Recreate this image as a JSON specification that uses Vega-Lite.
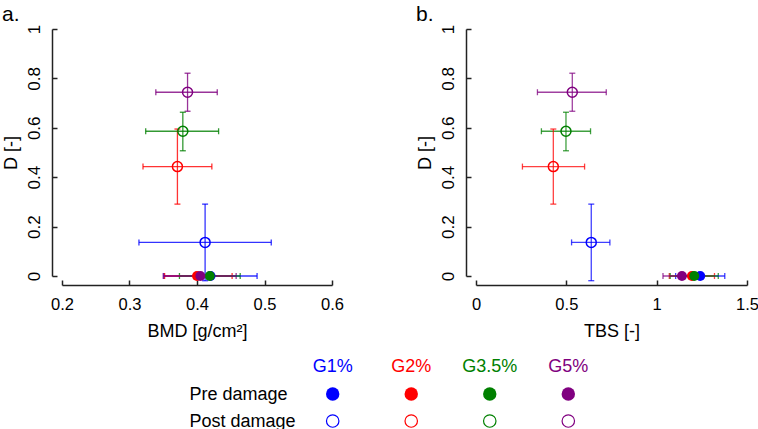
{
  "$schema": "https://vega.github.io/schema/vega-lite/v6.json",
  "padding": {"left": 2, "top": 4, "right": 0, "bottom": 0},
  "config": {
    "font": "Liberation Sans",
    "view": {"stroke": null},
    "axis": {"grid": false, "labelFontSize": 17, "titleFontSize": 18, "titleFontWeight": "normal", "labelColor": "#000", "titleColor": "#000", "domainColor": "#222", "tickColor": "#222", "domainWidth": 1.5, "tickWidth": 1.5, "labelFlush": false},
    "title": {"fontSize": 21, "fontWeight": "normal", "anchor": "start", "color": "#000", "offset": -1}
  },
  "datasets": {
    "main": [
      {"panel": "a", "group": "G1%", "status": "Pre damage", "x": 0.42, "xlo": 0.351, "xhi": 0.489, "y": 0, "ylo": null, "yhi": null},
      {"panel": "a", "group": "G2%", "status": "Pre damage", "x": 0.4, "xlo": 0.352, "xhi": 0.452, "y": 0, "ylo": null, "yhi": null},
      {"panel": "a", "group": "G3.5%", "status": "Pre damage", "x": 0.419, "xlo": 0.374, "xhi": 0.464, "y": 0, "ylo": null, "yhi": null},
      {"panel": "a", "group": "G5%", "status": "Pre damage", "x": 0.405, "xlo": 0.35, "xhi": 0.458, "y": 0, "ylo": null, "yhi": null},
      {"panel": "a", "group": "G1%", "status": "Post damage", "x": 0.412, "xlo": 0.314, "xhi": 0.51, "y": 0.136, "ylo": -0.019, "yhi": 0.291},
      {"panel": "a", "group": "G2%", "status": "Post damage", "x": 0.371, "xlo": 0.32, "xhi": 0.422, "y": 0.443, "ylo": 0.291, "yhi": 0.595},
      {"panel": "a", "group": "G3.5%", "status": "Post damage", "x": 0.379, "xlo": 0.324, "xhi": 0.432, "y": 0.586, "ylo": 0.507, "yhi": 0.663},
      {"panel": "a", "group": "G5%", "status": "Post damage", "x": 0.386, "xlo": 0.339, "xhi": 0.43, "y": 0.744, "ylo": 0.667, "yhi": 0.821},
      {"panel": "b", "group": "G1%", "status": "Pre damage", "x": 1.241, "xlo": 1.105, "xhi": 1.377, "y": 0, "ylo": null, "yhi": null},
      {"panel": "b", "group": "G2%", "status": "Pre damage", "x": 1.195, "xlo": 1.07, "xhi": 1.32, "y": 0, "ylo": null, "yhi": null},
      {"panel": "b", "group": "G3.5%", "status": "Pre damage", "x": 1.208, "xlo": 1.075, "xhi": 1.341, "y": 0, "ylo": null, "yhi": null},
      {"panel": "b", "group": "G5%", "status": "Pre damage", "x": 1.14, "xlo": 1.035, "xhi": 1.245, "y": 0, "ylo": null, "yhi": null},
      {"panel": "b", "group": "G1%", "status": "Post damage", "x": 0.638, "xlo": 0.529, "xhi": 0.741, "y": 0.136, "ylo": -0.019, "yhi": 0.291},
      {"panel": "b", "group": "G2%", "status": "Post damage", "x": 0.428, "xlo": 0.257, "xhi": 0.601, "y": 0.443, "ylo": 0.291, "yhi": 0.595},
      {"panel": "b", "group": "G3.5%", "status": "Post damage", "x": 0.498, "xlo": 0.362, "xhi": 0.634, "y": 0.586, "ylo": 0.507, "yhi": 0.663},
      {"panel": "b", "group": "G5%", "status": "Post damage", "x": 0.533, "xlo": 0.34, "xhi": 0.721, "y": 0.744, "ylo": 0.667, "yhi": 0.821}
    ],
    "legend": [
      {"group": "G1%", "status": "Pre damage"},
      {"group": "G2%", "status": "Pre damage"},
      {"group": "G3.5%", "status": "Pre damage"},
      {"group": "G5%", "status": "Pre damage"},
      {"group": "G1%", "status": "Post damage"},
      {"group": "G2%", "status": "Post damage"},
      {"group": "G3.5%", "status": "Post damage"},
      {"group": "G5%", "status": "Post damage"}
    ]
  },
  "columns": 2,
  "bounds": "flush",
  "spacing": {"column": 144, "row": 91},
  "resolve": {"scale": {"x": "independent", "y": "independent", "color": "shared"}},
  "concat": [
    {
      "title": {"text": "a."},
      "width": 270,
      "height": 247,
      "data": {"name": "main"},
      "transform": [{"filter": "datum.panel == 'a'"}],
      "encoding": {
        "color": {"field": "group", "type": "nominal", "scale": {"domain": ["G1%", "G2%", "G3.5%", "G5%"], "range": ["#0000ff", "#ff0000", "#008000", "#800080"]}, "legend": null}
      },
      "layer": [
        {
          "mark": {"type": "errorbar", "thickness": 1.3, "opacity": 0.8, "ticks": {"size": 6}},
          "encoding": {
            "x": {"field": "xlo", "type": "quantitative", "scale": {"domain": [0.2, 0.6], "nice": false, "zero": false}, "axis": {"title": "BMD [g/cm²]", "offset": 9, "tickSize": -5, "labelPadding": 16, "labelFontSize": 16.5, "titlePadding": 10, "values": [0.2, 0.3, 0.4, 0.5, 0.6], "format": "~g"}},
            "x2": {"field": "xhi"},
            "y": {"field": "y", "type": "quantitative", "scale": {"domain": [0, 1], "nice": false}, "axis": {"title": "D [-]", "offset": 10, "tickSize": -5, "labelAngle": 270, "labelAlign": "center", "labelBaseline": "bottom", "labelPadding": 14, "titlePadding": 5, "values": [0, 0.2, 0.4, 0.6, 0.8, 1], "format": "~g"}}
          }
        },
        {
          "transform": [{"filter": "datum.status == 'Post damage'"}],
          "mark": {"type": "errorbar", "thickness": 1.3, "opacity": 0.8, "ticks": {"size": 6}},
          "encoding": {
            "y": {"field": "ylo", "type": "quantitative", "scale": {"domain": [0, 1], "nice": false}, "axis": {"title": "D [-]", "offset": 10, "tickSize": -5, "labelAngle": 270, "labelAlign": "center", "labelBaseline": "bottom", "labelPadding": 14, "titlePadding": 5, "values": [0, 0.2, 0.4, 0.6, 0.8, 1], "format": "~g"}},
            "y2": {"field": "yhi"},
            "x": {"field": "x", "type": "quantitative", "scale": {"domain": [0.2, 0.6], "nice": false, "zero": false}, "axis": {"title": "BMD [g/cm²]", "offset": 9, "tickSize": -5, "labelPadding": 16, "labelFontSize": 16.5, "titlePadding": 10, "values": [0.2, 0.3, 0.4, 0.5, 0.6], "format": "~g"}}
          }
        },
        {
          "transform": [{"filter": "datum.status == 'Pre damage'"}],
          "mark": {"type": "point", "shape": "circle", "filled": true, "size": 100, "opacity": 1},
          "encoding": {
            "x": {"field": "x", "type": "quantitative", "scale": {"domain": [0.2, 0.6], "nice": false, "zero": false}, "axis": {"title": "BMD [g/cm²]", "offset": 9, "tickSize": -5, "labelPadding": 16, "labelFontSize": 16.5, "titlePadding": 10, "values": [0.2, 0.3, 0.4, 0.5, 0.6], "format": "~g"}},
            "y": {"field": "y", "type": "quantitative", "scale": {"domain": [0, 1], "nice": false}, "axis": {"title": "D [-]", "offset": 10, "tickSize": -5, "labelAngle": 270, "labelAlign": "center", "labelBaseline": "bottom", "labelPadding": 14, "titlePadding": 5, "values": [0, 0.2, 0.4, 0.6, 0.8, 1], "format": "~g"}}
          }
        },
        {
          "transform": [{"filter": "datum.status == 'Post damage'"}],
          "mark": {"type": "point", "shape": "circle", "filled": false, "size": 100, "strokeWidth": 1.5, "opacity": 1},
          "encoding": {
            "x": {"field": "x", "type": "quantitative", "scale": {"domain": [0.2, 0.6], "nice": false, "zero": false}, "axis": {"title": "BMD [g/cm²]", "offset": 9, "tickSize": -5, "labelPadding": 16, "labelFontSize": 16.5, "titlePadding": 10, "values": [0.2, 0.3, 0.4, 0.5, 0.6], "format": "~g"}},
            "y": {"field": "y", "type": "quantitative", "scale": {"domain": [0, 1], "nice": false}, "axis": {"title": "D [-]", "offset": 10, "tickSize": -5, "labelAngle": 270, "labelAlign": "center", "labelBaseline": "bottom", "labelPadding": 14, "titlePadding": 5, "values": [0, 0.2, 0.4, 0.6, 0.8, 1], "format": "~g"}}
          }
        }
      ]
    },
    {
      "title": {"text": "b."},
      "width": 271,
      "height": 247,
      "data": {"name": "main"},
      "transform": [{"filter": "datum.panel == 'b'"}],
      "encoding": {
        "color": {"field": "group", "type": "nominal", "scale": {"domain": ["G1%", "G2%", "G3.5%", "G5%"], "range": ["#0000ff", "#ff0000", "#008000", "#800080"]}, "legend": null}
      },
      "layer": [
        {
          "mark": {"type": "errorbar", "thickness": 1.3, "opacity": 0.75, "ticks": {"size": 6}},
          "encoding": {
            "x": {"field": "xlo", "type": "quantitative", "scale": {"domain": [0, 1.5], "nice": false}, "axis": {"title": "TBS [-]", "offset": 9, "tickSize": -5, "labelPadding": 16, "labelFontSize": 16.5, "titlePadding": 10, "values": [0, 0.5, 1, 1.5], "format": "~g"}},
            "x2": {"field": "xhi"},
            "y": {"field": "y", "type": "quantitative", "scale": {"domain": [0, 1], "nice": false}, "axis": {"title": "D [-]", "offset": 10, "tickSize": -5, "labelAngle": 270, "labelAlign": "center", "labelBaseline": "bottom", "labelPadding": 14, "titlePadding": 5, "values": [0, 0.2, 0.4, 0.6, 0.8, 1], "format": "~g"}}
          }
        },
        {
          "transform": [{"filter": "datum.status == 'Post damage'"}],
          "mark": {"type": "errorbar", "thickness": 1.3, "opacity": 0.75, "ticks": {"size": 6}},
          "encoding": {
            "y": {"field": "ylo", "type": "quantitative", "scale": {"domain": [0, 1], "nice": false}, "axis": {"title": "D [-]", "offset": 10, "tickSize": -5, "labelAngle": 270, "labelAlign": "center", "labelBaseline": "bottom", "labelPadding": 14, "titlePadding": 5, "values": [0, 0.2, 0.4, 0.6, 0.8, 1], "format": "~g"}},
            "y2": {"field": "yhi"},
            "x": {"field": "x", "type": "quantitative", "scale": {"domain": [0, 1.5], "nice": false}, "axis": {"title": "TBS [-]", "offset": 9, "tickSize": -5, "labelPadding": 16, "labelFontSize": 16.5, "titlePadding": 10, "values": [0, 0.5, 1, 1.5], "format": "~g"}}
          }
        },
        {
          "transform": [{"filter": "datum.status == 'Pre damage'"}],
          "mark": {"type": "point", "shape": "circle", "filled": true, "size": 100, "opacity": 1},
          "encoding": {
            "x": {"field": "x", "type": "quantitative", "scale": {"domain": [0, 1.5], "nice": false}, "axis": {"title": "TBS [-]", "offset": 9, "tickSize": -5, "labelPadding": 16, "labelFontSize": 16.5, "titlePadding": 10, "values": [0, 0.5, 1, 1.5], "format": "~g"}},
            "y": {"field": "y", "type": "quantitative", "scale": {"domain": [0, 1], "nice": false}, "axis": {"title": "D [-]", "offset": 10, "tickSize": -5, "labelAngle": 270, "labelAlign": "center", "labelBaseline": "bottom", "labelPadding": 14, "titlePadding": 5, "values": [0, 0.2, 0.4, 0.6, 0.8, 1], "format": "~g"}}
          }
        },
        {
          "transform": [{"filter": "datum.status == 'Post damage'"}],
          "mark": {"type": "point", "shape": "circle", "filled": false, "size": 100, "strokeWidth": 1.5, "opacity": 1},
          "encoding": {
            "x": {"field": "x", "type": "quantitative", "scale": {"domain": [0, 1.5], "nice": false}, "axis": {"title": "TBS [-]", "offset": 9, "tickSize": -5, "labelPadding": 16, "labelFontSize": 16.5, "titlePadding": 10, "values": [0, 0.5, 1, 1.5], "format": "~g"}},
            "y": {"field": "y", "type": "quantitative", "scale": {"domain": [0, 1], "nice": false}, "axis": {"title": "D [-]", "offset": 10, "tickSize": -5, "labelAngle": 270, "labelAlign": "center", "labelBaseline": "bottom", "labelPadding": 14, "titlePadding": 5, "values": [0, 0.2, 0.4, 0.6, 0.8, 1], "format": "~g"}}
          }
        }
      ]
    },
    {
      "width": 270,
      "height": 54,
      "data": {"name": "legend"},
      "encoding": {
        "x": {"field": "group", "type": "nominal", "scale": {"type": "point", "domain": ["G1%", "G2%", "G3.5%", "G5%"], "range": [270.7, 506.3], "padding": 0}, "axis": null},
        "color": {"field": "group", "type": "nominal", "scale": {"domain": ["G1%", "G2%", "G3.5%", "G5%"], "range": ["#0000ff", "#ff0000", "#008000", "#800080"]}, "legend": null}
      },
      "layer": [
        {
          "transform": [{"filter": "datum.status == 'Pre damage'"}],
          "mark": {"type": "text", "fontSize": 18, "baseline": "middle", "align": "center"},
          "encoding": {
            "y": {"datum": "hdr", "type": "nominal", "scale": {"type": "point", "domain": ["hdr", "Pre damage", "Post damage"], "padding": 0}, "axis": {"title": null, "domain": false, "ticks": false, "tickSize": 0, "offset": -127, "labelAlign": "left", "labelBaseline": "middle", "labelPadding": 0, "labelFontSize": 18, "labelExpr": "datum.value == 'hdr' ? '' : datum.value"}},
            "text": {"field": "group"}
          }
        },
        {
          "transform": [{"filter": "datum.status == 'Pre damage'"}],
          "mark": {"type": "point", "shape": "circle", "filled": true, "size": 180, "opacity": 1},
          "encoding": {
            "y": {"field": "status", "type": "nominal", "scale": {"type": "point", "domain": ["hdr", "Pre damage", "Post damage"], "padding": 0}, "axis": {"title": null, "domain": false, "ticks": false, "tickSize": 0, "offset": -127, "labelAlign": "left", "labelBaseline": "middle", "labelPadding": 0, "labelFontSize": 18, "labelExpr": "datum.value == 'hdr' ? '' : datum.value"}}
          }
        },
        {
          "transform": [{"filter": "datum.status == 'Post damage'"}],
          "mark": {"type": "point", "shape": "circle", "filled": false, "size": 155, "strokeWidth": 1.2, "opacity": 1},
          "encoding": {
            "y": {"field": "status", "type": "nominal", "scale": {"type": "point", "domain": ["hdr", "Pre damage", "Post damage"], "padding": 0}, "axis": {"title": null, "domain": false, "ticks": false, "tickSize": 0, "offset": -127, "labelAlign": "left", "labelBaseline": "middle", "labelPadding": 0, "labelFontSize": 18, "labelExpr": "datum.value == 'hdr' ? '' : datum.value"}}
          }
        }
      ]
    }
  ]
}
